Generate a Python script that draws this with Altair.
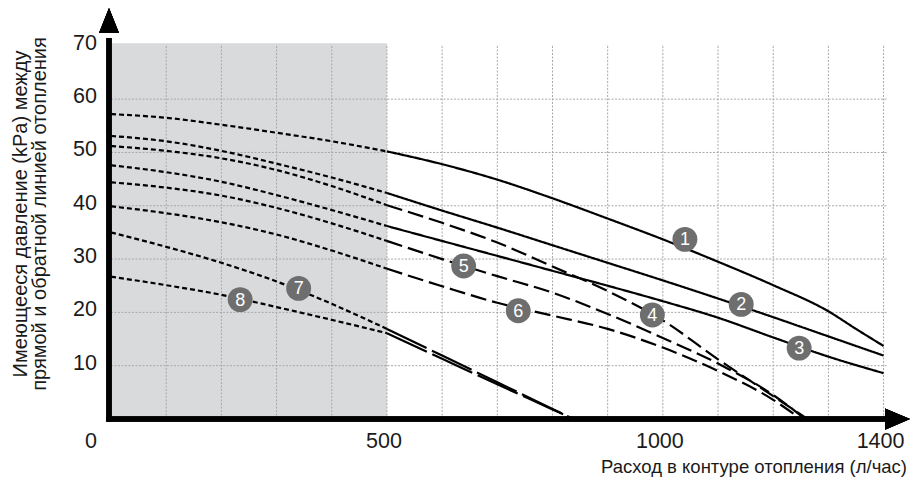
import altair as alt
import pandas as pd

# ---------------- data ----------------
x_ticks = [0, 500, 1000, 1400]
y_ticks = [10, 20, 30, 40, 50, 60, 70]
x_grid = [100, 200, 300, 400, 500, 600, 700, 800, 900, 1000, 1100, 1200, 1300, 1400]
y_grid = [10, 20, 30, 40, 50, 60]

# dotted part (0..500 l/h), shaded zone
flow_dot = [0, 100, 200, 300, 400, 500]
c1_dot = [57.2, 56.5, 55.2, 53.7, 52.1, 50.2]
c2_dot = [53.1, 52.1, 50.3, 47.9, 45.3, 42.4]
c4_dot = [51.2, 50.3, 48.9, 46.7, 43.7, 40.1]
c3_dot = [47.6, 46.3, 44.5, 42.0, 39.2, 36.2]
c5_dot = [44.4, 43.4, 41.9, 39.6, 36.7, 33.4]
c6_dot = [39.9, 38.6, 36.9, 34.6, 31.6, 28.2]
c7_dot = [35.0, 32.3, 29.3, 25.8, 21.6, 16.9]
c8_dot = [26.7, 25.1, 23.3, 21.0, 18.6, 16.1]

# right part (from 500 l/h)
c1_flow = [500, 600, 700, 800, 900, 1000, 1100, 1200, 1300, 1350, 1400]
c1_val = [50.2, 47.8, 44.9, 41.4, 37.6, 33.7, 29.5, 25.1, 20.2, 16.9, 13.7]
c2_flow = [500, 600, 700, 800, 900, 1000, 1100, 1200, 1300, 1400]
c2_val = [42.4, 39.1, 35.9, 32.6, 29.3, 26.0, 22.6, 19.1, 15.5, 11.9]
c3_flow = [500, 600, 700, 800, 900, 1000, 1100, 1200, 1300, 1400]
c3_val = [36.2, 33.4, 30.6, 27.8, 25.0, 22.1, 19.0, 15.3, 11.7, 8.6]
c4_flow = [500, 600, 700, 800, 900, 1000, 1100, 1200, 1262]
c4_val = [40.1, 36.8, 33.1, 28.6, 24.0, 18.5, 11.2, 4.3, 0.0]
c5_flow = [500, 600, 700, 800, 900, 1000, 1100, 1200, 1258]
c5_val = [33.4, 30.0, 26.8, 23.7, 19.7, 15.2, 10.4, 4.5, 0.0]
c6_flow = [500, 600, 700, 800, 900, 1000, 1100, 1200, 1250]
c6_val = [28.2, 24.9, 21.8, 19.4, 16.9, 13.4, 9.0, 3.6, 0.0]
c7_flow = [500, 600, 700, 800, 838]
c7_val = [16.9, 11.9, 6.9, 1.9, 0.0]
c8_flow = [500, 600, 700, 800, 838]
c8_val = [16.1, 11.3, 6.5, 1.8, 0.0]

# numbered markers
lbl_num = ["1", "2", "3", "4", "5", "6", "7", "8"]
lbl_x = [1040, 1142, 1247, 981, 639, 738, 340, 234]
lbl_y = [33.7, 21.5, 13.3, 19.5, 28.7, 20.3, 24.5, 22.4]

shade_x = [0, 500]
shade_y = [0, 70.5]

y_title = ["Имеющееся давление (kPa) между", "прямой и обратной линией отопления"]
x_title = "Расход в контуре отопления (л/час)"

# ---------------- build tables ----------------
rows = []
dots = [c1_dot, c2_dot, c3_dot, c4_dot, c5_dot, c6_dot, c7_dot, c8_dot]
rights = [(c1_flow, c1_val, "solid"), (c2_flow, c2_val, "solid"), (c3_flow, c3_val, "solid"),
          (c4_flow, c4_val, "dash"), (c5_flow, c5_val, "dash"), (c6_flow, c6_val, "dash"),
          (c7_flow, c7_val, "long"), (c8_flow, c8_val, "long")]
for k in range(8):
    for i, (fx, fy) in enumerate(zip(flow_dot, dots[k])):
        rows.append({"seg": f"c{k+1}d", "style": "dot", "x": fx, "y": fy, "i": i})
    fl, vl, st = rights[k]
    for i, (fx, fy) in enumerate(zip(fl, vl)):
        rows.append({"seg": f"c{k+1}r", "style": st, "x": fx, "y": fy, "i": i})
curves = pd.DataFrame(rows)

labels = pd.DataFrame({"n": lbl_num, "x": lbl_x, "y": lbl_y})
shade = pd.DataFrame({"x": [shade_x[0]], "x2": [shade_x[1]], "y": [shade_y[0]], "y2": [shade_y[1]]})
vgrid = pd.DataFrame({"x": x_grid, "y": 0, "y2": 70.3})
hgrid = pd.DataFrame({"y": y_grid, "x": 0, "x2": 1408})
xt = pd.DataFrame({"v": x_ticks, "t": [str(v) for v in x_ticks]})
yt = pd.DataFrame({"v": y_ticks, "t": [str(v) for v in y_ticks]})

FONT = "Liberation Sans"
xs = alt.Scale(domain=[-5.5, 1447.9], nice=False, zero=False)
ys = alt.Scale(domain=[0, 77.1], nice=False, zero=False)

base_rect = alt.Chart(shade).mark_rect(color="#d9dadb").encode(
    x=alt.X("x:Q", scale=xs, axis=None), x2="x2:Q",
    y=alt.Y("y:Q", scale=ys, axis=None), y2="y2:Q")

grid_color = "#a8a8a8"
vg = alt.Chart(vgrid).mark_rule(color=grid_color, strokeDash=[2, 1.5], strokeWidth=1).encode(
    x=alt.X("x:Q", scale=xs, axis=None), y=alt.Y("y:Q", scale=ys, axis=None), y2="y2:Q")
hg = alt.Chart(hgrid).mark_rule(color=grid_color, strokeDash=[2, 1.5], strokeWidth=1).encode(
    y=alt.Y("y:Q", scale=ys, axis=None), x=alt.X("x:Q", scale=xs, axis=None), x2="x2:Q")

lines = alt.Chart(curves).mark_line(color="black", strokeWidth=2.2, interpolate="monotone").encode(
    x=alt.X("x:Q", scale=xs, axis=None),
    y=alt.Y("y:Q", scale=ys, axis=None),
    detail="seg:N",
    order="i:Q",
    strokeDash=alt.StrokeDash("style:N", legend=None,
                              scale=alt.Scale(domain=["dot", "solid", "dash", "long"],
                                              range=[[5, 3], [1, 0], [16, 6], [44, 6]])),
)

circ = alt.Chart(labels).mark_circle(size=620, color="#6e6e6e", opacity=1).encode(
    x=alt.X("x:Q", scale=xs, axis=None), y=alt.Y("y:Q", scale=ys, axis=None))
circ_t = alt.Chart(labels).mark_text(color="white", fontSize=18, font=FONT, baseline="middle",
                                     align="center", dy=1).encode(
    x=alt.X("x:Q", scale=xs, axis=None), y=alt.Y("y:Q", scale=ys, axis=None), text="n:N")

# axes (thick arrows)
ax_x = alt.Chart(xt).mark_rule(color="black", strokeWidth=5).encode(
    x=alt.value(-1.5), x2=alt.value(780), y=alt.value(411))
ax_y = alt.Chart(xt).mark_rule(color="black", strokeWidth=5).encode(
    x=alt.value(1), y=alt.value(413.5), y2=alt.value(30))
arr_x = alt.Chart(xt).mark_point(shape="M-1,-0.85L1,0L-1,0.85Z", filled=True, size=625,
                                 color="black", opacity=1, strokeWidth=0).encode(
    x=alt.value(789.5), y=alt.value(411))
arr_y = alt.Chart(xt).mark_point(shape="M-0.8,1L0,-1L0.8,1Z", filled=True, size=625,
                                 color="black", opacity=1, strokeWidth=0).encode(
    x=alt.value(1), y=alt.value(12.5))

# tick labels
ytl = alt.Chart(yt).mark_text(fontSize=21.5, font=FONT, color="#1a1a1a", align="right",
                              baseline="middle", dy=-2).encode(
    y=alt.Y("v:Q", scale=ys, axis=None), x=alt.value(-11), text="t:N")
xtl0 = alt.Chart(xt).transform_filter("datum.v == 0").mark_text(
    fontSize=21.5, font=FONT, color="#1a1a1a", align="center", baseline="middle", dx=-20).encode(
    x=alt.X("v:Q", scale=xs, axis=None), y=alt.value(434), text="t:N")
xtl = alt.Chart(xt).transform_filter("datum.v > 0").mark_text(
    fontSize=21.5, font=FONT, color="#1a1a1a", align="center", baseline="middle", dx=-3).encode(
    x=alt.X("v:Q", scale=xs, axis=None), y=alt.value(434), text="t:N")

ytitle = alt.Chart(pd.DataFrame({"t": [y_title]})).mark_text(
    fontSize=20, font=FONT, color="#1a1a1a", angle=270, align="center", baseline="middle",
    lineHeight=19).encode(x=alt.value(-87), y=alt.value(206), text="t")
xtitle = alt.Chart(pd.DataFrame({"t": [x_title]})).mark_text(
    fontSize=18.5, font=FONT, color="#1a1a1a", align="right", baseline="middle").encode(
    x=alt.value(799), y=alt.value(459), text="t:N")

chart = alt.layer(base_rect, vg, hg, lines, circ, circ_t, ax_x, ax_y, arr_x, arr_y,
                  ytl, xtl0, xtl, ytitle, xtitle).properties(
    width=802, height=411,
    padding={"left": 100, "top": 0, "right": 0, "bottom": 59},
    autosize=alt.AutoSizeParams(type="none"),
    background="white",
).configure_view(stroke=None)

chart.save("out.html", embed_options={"renderer": "svg", "actions": False})
